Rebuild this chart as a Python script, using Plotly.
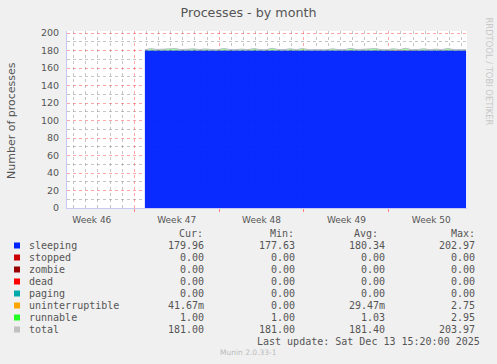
import pandas as pd
import plotly.graph_objects as go

# ---------------- data ----------------
range_start = "2025-11-11 10:48"
range_end = "2025-12-14 10:48"
data_start = "2025-11-17 21:00"
sample_hours = 12

sleeping = [180.0, 179.9, 180.1, 180.0, 180.2, 179.8, 180.0, 180.1, 179.9, 180.0,
            180.0, 180.1, 179.9, 180.0, 180.2, 180.0, 179.9, 180.0, 180.1, 180.0,
            179.9, 180.0, 180.1, 180.0, 180.0, 179.9, 180.1, 180.0, 180.0, 180.2,
            180.0, 179.9, 180.0, 180.1, 180.0, 180.0, 179.9, 180.0, 180.1, 180.0,
            180.0, 180.2, 180.0, 179.9, 180.0, 180.1, 180.0, 180.0, 179.9, 180.0,
            180.1, 180.0, 180.0, 179.96]
uninterruptible = [0.0, 0.0, 0.1, 0.0, 0.0, 0.0, 0.0, 0.0, 0.0, 0.1,
                   0.0, 0.0, 0.0, 0.0, 0.0, 0.0, 0.0, 0.0, 0.0, 0.0,
                   0.0, 0.0, 0.0, 0.0, 0.1, 0.0, 0.0, 0.0, 0.0, 0.0,
                   0.0, 0.0, 0.0, 0.0, 0.0, 0.0, 0.0, 0.0, 0.0, 0.1,
                   0.0, 0.0, 0.0, 0.0, 0.0, 0.0, 0.0, 0.0, 0.0, 0.0,
                   0.0, 0.0, 0.0, 0.04]
runnable = [1.0, 2.2, 1.0, 1.6, 1.0, 2.4, 1.0, 1.0, 2.0, 1.0,
            1.8, 1.0, 1.0, 2.3, 1.0, 1.0, 1.7, 1.0, 2.1, 1.0,
            1.0, 2.5, 1.0, 1.0, 1.9, 1.0, 2.2, 1.0, 1.0, 1.6,
            1.0, 2.0, 1.0, 1.0, 2.4, 1.0, 1.5, 1.0, 2.1, 1.0,
            1.0, 1.8, 1.0, 2.6, 1.0, 1.0, 2.0, 1.0, 1.7, 1.0,
            2.2, 1.0, 1.0, 1.0]
total = [181.0, 182.1, 181.2, 181.6, 181.2, 182.2, 181.0, 181.1, 181.9, 181.1,
         181.8, 181.1, 180.9, 182.3, 181.2, 181.0, 181.6, 181.0, 182.2, 181.0,
         180.9, 182.5, 181.1, 181.0, 182.0, 180.9, 182.3, 181.0, 181.0, 181.8,
         181.0, 181.9, 181.0, 181.1, 182.4, 181.0, 181.4, 181.0, 182.2, 181.1,
         181.0, 182.0, 181.0, 182.5, 181.0, 181.1, 182.0, 181.0, 181.6, 181.0,
         182.3, 181.0, 181.0, 181.0]

week_tick0 = "2025-11-17"

legend_labels = ["sleeping", "stopped", "zombie", "dead", "paging",
                 "uninterruptible", "runnable", "total"]
legend_colors = ["#0022ff", "#cc0000", "#990000", "#ff0000", "#00aaaa",
                 "#ffa500", "#22ff22", "#c0c0c0"]
cur_vals = ["179.96", "0.00", "0.00", "0.00", "0.00", "41.67m", "1.00", "181.00"]
min_vals = ["177.63", "0.00", "0.00", "0.00", "0.00", "0.00", "1.00", "181.00"]
avg_vals = ["180.34", "0.00", "0.00", "0.00", "0.00", "29.47m", "1.03", "181.40"]
max_vals = ["202.97", "0.00", "0.00", "0.00", "0.00", "2.75", "2.95", "203.97"]
last_update = "Last update: Sat Dec 13 15:20:00 2025"

# ---------------- figure ----------------
times = pd.date_range(data_start, periods=len(sleeping), freq=f"{sample_hours}h")

W, H = 497, 364
L, R, T, B = 67, 30, 31, 156
PW, PH = W - L - R, H - T - B

fig = go.Figure()
fig.add_trace(go.Scatter(x=times, y=sleeping, stackgroup="s", mode="lines",
                         line=dict(width=0, color="#0022ff"),
                         fillcolor="rgba(0,34,255,0.96)", name="sleeping"))
fig.add_trace(go.Scatter(x=times, y=uninterruptible, stackgroup="s", mode="lines",
                         line=dict(width=0, color="#ffa500"),
                         fillcolor="#ffa500", name="uninterruptible"))
fig.add_trace(go.Scatter(x=times, y=runnable, stackgroup="s", mode="lines",
                         line=dict(width=0, color="#22ff22"),
                         fillcolor="rgba(34,255,34,0.45)", name="runnable"))
fig.add_trace(go.Scatter(x=times, y=total, mode="lines",
                         line=dict(width=1, color="#b8b8c8"), name="total"))

mono = "DejaVu Sans Mono"
txt = "#555555"
fs = 10
ann = []
shapes = []


def px_x(x):
    return (x - L) / PW


def px_y(y):
    return (H - B - y) / PH


# header row
for label, x in [("Cur:", 177), ("Min:", 268), ("Avg:", 352), ("Max:", 449)]:
    ann.append(dict(text=label, x=px_x(x), y=px_y(233.5), xref="paper", yref="paper",
                    xanchor="left", yanchor="middle", showarrow=False,
                    font=dict(family=mono, size=fs, color=txt)))

row_y0 = 245.5
row_dy = 12
for i, lab in enumerate(legend_labels):
    yy = row_y0 + i * row_dy
    shapes.append(dict(type="rect", xref="paper", yref="paper",
                       x0=px_x(14), x1=px_x(20), y0=px_y(yy - 3), y1=px_y(yy + 3),
                       fillcolor=legend_colors[i], line=dict(width=0)))
    ann.append(dict(text=lab, x=px_x(27), y=px_y(yy), xref="paper", yref="paper",
                    xanchor="left", yanchor="middle", showarrow=False,
                    font=dict(family=mono, size=fs, color=txt)))
    for vals, xr in [(cur_vals, 206), (min_vals, 297), (avg_vals, 387), (max_vals, 477)]:
        ann.append(dict(text=vals[i], x=px_x(xr), y=px_y(yy), xref="paper", yref="paper",
                        xanchor="right", yanchor="middle", showarrow=False,
                        font=dict(family=mono, size=fs, color=txt)))

ann.append(dict(text=last_update, x=px_x(482), y=px_y(341.5), xref="paper", yref="paper",
                xanchor="right", yanchor="middle", showarrow=False,
                font=dict(family=mono, size=fs, color=txt)))
ann.append(dict(text="Munin 2.0.33-1", x=px_x(248), y=px_y(352.5), xref="paper", yref="paper",
                xanchor="center", yanchor="middle", showarrow=False,
                font=dict(family="DejaVu Sans", size=7.5, color="#bbbbbb")))
ann.append(dict(text="RRDTOOL / TOBI OETIKER", x=px_x(489), y=px_y(71.5), xref="paper", yref="paper",
                xanchor="center", yanchor="middle", showarrow=False, textangle=90,
                font=dict(family="DejaVu Sans", size=8.4, color="#c8c8c8")))
ann.append(dict(text="Number of processes", x=px_x(12), y=px_y(120), xref="paper", yref="paper",
                xanchor="center", yanchor="middle", showarrow=False, textangle=-90,
                font=dict(family="DejaVu Sans", size=11, color=txt)))

fig.update_layout(
    width=W, height=H,
    margin=dict(l=L, r=R, t=T, b=B, pad=0),
    paper_bgcolor="#f0f0f0", plot_bgcolor="#ffffff",
    showlegend=False,
    title=dict(text="Processes - by month", x=0.5, xanchor="center",
               y=1 - 13 / H, yanchor="middle",
               font=dict(family="DejaVu Sans", size=12.7, color=txt)),
    annotations=ann, shapes=shapes,
    font=dict(family="DejaVu Sans", size=9, color=txt),
)

fig.update_xaxes(
    type="date", range=[range_start, range_end],
    tick0=week_tick0, dtick=7 * 86400000, ticklabelmode="period",
    tickformat="Week %V", ticks="outside", ticklen=3, tickcolor="#ff8080",
    showgrid=True, gridcolor="rgba(255,0,0,0.35)", griddash="dot", gridwidth=1,
    minor=dict(dtick=86400000, tick0=week_tick0, showgrid=True,
               gridcolor="rgba(140,140,140,0.5)", griddash="dot", ticks=""),
    showline=True, linecolor="#c8c8f0", linewidth=1,
    tickfont=dict(family="DejaVu Sans", size=9, color=txt),
    zeroline=False,
)
fig.update_yaxes(
    range=[0, 202.3], tick0=0, dtick=20,
    showgrid=True, gridcolor="rgba(255,0,0,0.35)", griddash="dot", gridwidth=1,
    minor=dict(dtick=10, showgrid=True, gridcolor="rgba(140,140,140,0.5)",
               griddash="dot"),
    showline=True, linecolor="#c8c8f0", linewidth=1,
    ticks="", tickfont=dict(family="DejaVu Sans", size=9.5, color=txt),
    ticklabelstandoff=5,
    zeroline=False,
)

fig.write_html("out.html",
               config={"displayModeBar": False},
               post_script="document.body.style.margin='0';document.body.style.background='#f0f0f0';")
